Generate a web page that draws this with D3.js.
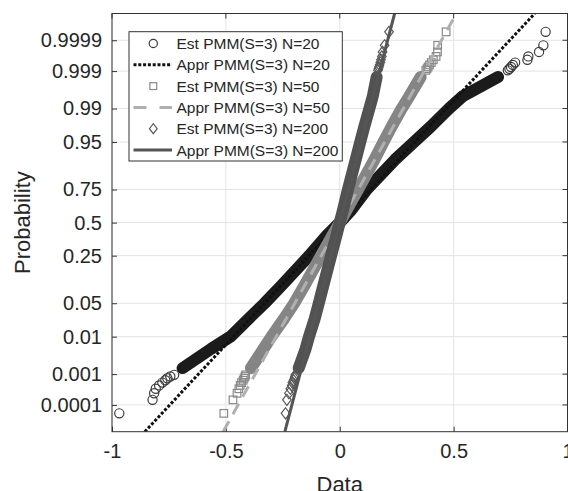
<!DOCTYPE html>
<html><head><meta charset="utf-8">
<script src="https://cdn.jsdelivr.net/npm/d3@7"></script>
<style>
html,body{margin:0;padding:0;background:#fff;}
svg{display:block;font-family:"Liberation Sans",Arial,Helvetica,sans-serif;}
</style></head>
<body><svg id="chart" width="568" height="491"></svg>
<script>
// ---------- data ----------
const xTicks = [-1, -0.5, 0, 0.5, 1];
const xTickLabels = ["-1", "-0.5", "0", "0.5", "1"];
const probTicks = [0.0001, 0.001, 0.01, 0.05, 0.25, 0.5, 0.75, 0.95, 0.99, 0.999, 0.9999];
const probTickLabels = ["0.0001", "0.001", "0.01", "0.05", "0.25", "0.5", "0.75", "0.95", "0.99", "0.999", "0.9999"];
const xDomain = [-1, 1];
const probDomain = [0.00001, 0.99999];

// probabilities of the dense body of each estimated sample (read along the band)
const bodyProb = [0.0015, 0.005, 0.01, 0.025, 0.05, 0.1, 0.25, 0.4, 0.5, 0.6, 0.75, 0.9, 0.95, 0.975, 0.99, 0.995, 0.9985];
// plotting positions of the 10 lowest / highest of 10000 ordered values
const lowTailProb = [0.00005, 0.00015, 0.00025, 0.00035, 0.00045, 0.00055, 0.00065, 0.00075, 0.00085, 0.00095];
const highTailProb = [0.99905, 0.99915, 0.99925, 0.99935, 0.99945, 0.99955, 0.99965, 0.99975, 0.99985, 0.99995];

const est20Body = [-0.69, -0.565, -0.48, -0.40, -0.33, -0.255, -0.134, -0.055, 0, 0.05, 0.118, 0.242, 0.327, 0.40, 0.48, 0.54, 0.695];
const est20Low  = [-0.968, -0.822, -0.815, -0.808, -0.793, -0.779, -0.766, -0.757, -0.744, -0.727];
const est20High = [0.738, 0.745, 0.752, 0.76, 0.77, 0.824, 0.828, 0.875, 0.894, 0.904];

const est50Body = [-0.39, -0.335, -0.30, -0.245, -0.20, -0.155, -0.082, -0.031, 0, 0.03, 0.08, 0.152, 0.192, 0.228, 0.272, 0.305, 0.355];
const est50Low  = [-0.509, -0.469, -0.451, -0.443, -0.437, -0.431, -0.424, -0.420, -0.416, -0.413];
const est50High = [0.378, 0.383, 0.388, 0.394, 0.402, 0.411, 0.423, 0.429, 0.430, 0.467];

const est200Body = [-0.18, -0.15, -0.135, -0.11, -0.092, -0.072, -0.038, -0.014, 0, 0.014, 0.036, 0.07, 0.09, 0.108, 0.13, 0.145, 0.162];
const est200Low  = [-0.238, -0.232, -0.223, -0.217, -0.211, -0.208, -0.203, -0.199, -0.197, -0.195];
const est200High = [0.168, 0.17, 0.172, 0.175, 0.178, 0.181, 0.185, 0.188, 0.197, 0.2165];

// approximating normal lines (end points at the probability limits)
const apprProb = [0.00001, 0.99999];
const appr20X  = [-0.856, 0.856];
const appr50X  = [-0.512, 0.512];
const appr200X = [-0.241, 0.241];

const legendLabels = ["Est PMM(S=3) N=20", "Appr PMM(S=3) N=20", "Est PMM(S=3) N=50",
                      "Appr PMM(S=3) N=50", "Est PMM(S=3) N=200", "Appr PMM(S=3) N=200"];

// ---------- probit transform (Acklam) ----------
function probit(p) {
  const a = [-3.969683028665376e+01, 2.209460984245205e+02, -2.759285104469687e+02, 1.383577518672690e+02, -3.066479806614716e+01, 2.506628277459239e+00];
  const b = [-5.447609879822406e+01, 1.615858368580409e+02, -1.556989798598866e+02, 6.680131188771972e+01, -1.328068155288572e+01];
  const c = [-7.784894002430293e-03, -3.223964580411365e-01, -2.400758277161838e+00, -2.549732539343734e+00, 4.374664141464968e+00, 2.938163982698783e+00];
  const d = [7.784695709041462e-03, 3.224671290700398e-01, 2.445134137142996e+00, 3.754408661907416e+00];
  const pl = 0.02425, ph = 1 - pl;
  let q, r;
  if (p < pl) { q = Math.sqrt(-2 * Math.log(p));
    return (((((c[0]*q+c[1])*q+c[2])*q+c[3])*q+c[4])*q+c[5]) / ((((d[0]*q+d[1])*q+d[2])*q+d[3])*q+1); }
  if (p <= ph) { q = p - 0.5; r = q*q;
    return (((((a[0]*r+a[1])*r+a[2])*r+a[3])*r+a[4])*r+a[5])*q / (((((b[0]*r+b[1])*r+b[2])*r+b[3])*r+b[4])*r+1); }
  q = Math.sqrt(-2 * Math.log(1 - p));
  return -(((((c[0]*q+c[1])*q+c[2])*q+c[3])*q+c[4])*q+c[5]) / ((((d[0]*q+d[1])*q+d[2])*q+d[3])*q+1);
}

// ---------- layout ----------
const svg = d3.select("#chart");
const L = 112, R = 567.5, T = 13.5, B = 431.7;
const x = d3.scaleLinear().domain(xDomain).range([L, R]);
const yz = d3.scaleLinear().domain([probit(probDomain[0]), probit(probDomain[1])]).range([B, T]);
const y = p => yz(probit(p));
const textCol = "#262626";
const font = '"Liberation Sans",Arial,Helvetica,sans-serif';

svg.append("defs").append("clipPath").attr("id", "clip")
  .append("rect").attr("x", L).attr("y", T).attr("width", R - L).attr("height", B - T);

// grid
const grid = svg.append("g");
grid.selectAll("line.gx").data(xTicks).join("line")
  .attr("x1", d => x(d)).attr("x2", d => x(d)).attr("y1", T).attr("y2", B)
  .attr("stroke", "#e3e3e3").attr("stroke-width", 1);
grid.selectAll("line.gy").data(probTicks).join("line")
  .attr("x1", L).attr("x2", R).attr("y1", d => y(d)).attr("y2", d => y(d))
  .attr("stroke", "#e3e3e3").attr("stroke-width", 1);

// axes
const xAxis = d3.axisBottom(x).tickValues(xTicks).tickFormat((d, i) => xTickLabels[i])
  .tickSizeInner(-5).tickSizeOuter(0).tickPadding(12);
const yAxis = d3.axisLeft(yz).tickValues(probTicks.map(probit))
  .tickFormat((d, i) => probTickLabels[i]).tickSizeInner(-5).tickSizeOuter(0).tickPadding(10);
const gx = svg.append("g").attr("transform", `translate(0,${B})`).call(xAxis);
const gy = svg.append("g").attr("transform", `translate(${L},0)`).call(yAxis);
[gx, gy].forEach(g => {
  g.select(".domain").remove();
  g.selectAll(".tick line").attr("stroke", "#333");
  g.selectAll(".tick text").attr("fill", textCol).style("font-size", "20px").style("font-family", font);
});
gx.selectAll(".tick text").attr("dy", "0.74em");
// right & top ticks (box)
svg.append("g").selectAll("line").data(probTicks).join("line")
  .attr("x1", R).attr("x2", R - 5).attr("y1", d => y(d)).attr("y2", d => y(d)).attr("stroke", "#333");
svg.append("g").selectAll("line").data(xTicks).join("line")
  .attr("x1", d => x(d)).attr("x2", d => x(d)).attr("y1", T).attr("y2", T + 5).attr("stroke", "#333");

// axis labels
svg.append("text").attr("x", (L + R) / 2).attr("y", 492).attr("text-anchor", "middle")
  .attr("fill", textCol).style("font-size", "22px").style("font-family", font).text("Data");
svg.append("text").attr("transform", `translate(30,${yz(0)}) rotate(-90)`).attr("text-anchor", "middle")
  .attr("fill", textCol).style("font-size", "22px").style("font-family", font).text("Probability");

// ---------- series ----------
const plot = svg.append("g").attr("clip-path", "url(#clip)");
const zip = (xs, ps) => xs.map((v, i) => [v, ps[i]]);
const lineGen = d3.line().x(d => x(d[0])).y(d => y(d[1]));

const series = [
  { body: est20Body, low: est20Low, high: est20High, band: "#1b1b1b", mark: "#3a3a3a", shape: "circle",
    appr: appr20X, lineCol: "#111", lineW: 3, dash: "3,1.8" },
  { body: est50Body, low: est50Low, high: est50High, band: "#858585", mark: "#8a8a8a", shape: "square",
    appr: appr50X, lineCol: "#b0b0b0", lineW: 3, dash: "12,8" },
  { body: est200Body, low: est200Low, high: est200High, band: "#525252", mark: "#5a5a5a", shape: "diamond",
    appr: appr200X, lineCol: "#555", lineW: 3, dash: null }
];

function drawMarker(g, shape, cx, cy, col, scale) {
  const s = scale || 1;
  if (shape === "circle") {
    g.append("circle").attr("cx", cx).attr("cy", cy).attr("r", 4.6 * s)
      .attr("fill", "none").attr("stroke", col).attr("stroke-width", 1.2);
  } else if (shape === "square") {
    g.append("rect").attr("x", cx - 3.8 * s).attr("y", cy - 3.8 * s).attr("width", 7.6 * s).attr("height", 7.6 * s)
      .attr("fill", "none").attr("stroke", col).attr("stroke-width", 1.2);
  } else {
    g.append("path").attr("d", `M${cx},${cy - 5.6 * s}L${cx + 4.3 * s},${cy}L${cx},${cy + 5.6 * s}L${cx - 4.3 * s},${cy}Z`)
      .attr("fill", "none").attr("stroke", col).attr("stroke-width", 1.2);
  }
}

series.forEach(s => {
  // dense body of overlapping markers
  plot.append("path").datum(zip(s.body, bodyProb)).attr("d", lineGen)
    .attr("fill", "none").attr("stroke", s.band).attr("stroke-width", 12)
    .attr("stroke-linecap", "round").attr("stroke-linejoin", "round");
  // tail markers
  const tails = zip(s.low, lowTailProb).concat(zip(s.high, highTailProb));
  tails.forEach(d => drawMarker(plot, s.shape, x(d[0]), y(d[1]), s.mark));
  // approximating line
  const ln = plot.append("path").datum(zip(s.appr, apprProb)).attr("d", lineGen)
    .attr("fill", "none").attr("stroke", s.lineCol).attr("stroke-width", s.lineW);
  if (s.dash) ln.attr("stroke-dasharray", s.dash);
});

// box
svg.append("rect").attr("x", L).attr("y", T).attr("width", R - L).attr("height", B - T)
  .attr("fill", "none").attr("stroke", "#333").attr("stroke-width", 1);

// ---------- legend ----------
const lg = svg.append("g");
lg.append("rect").attr("x", 129).attr("y", 31.7).attr("width", 213.3).attr("height", 129.3)
  .attr("fill", "#fff").attr("stroke", "#333").attr("stroke-width", 1);
const rowY = i => 43.5 + i * 21.3;
legendLabels.forEach((lab, i) => {
  const s = series[Math.floor(i / 2)];
  const cy = rowY(i);
  if (i % 2 === 0) {
    drawMarker(lg, s.shape, 153.3, cy, s.mark, 0.9);
  } else {
    const l = lg.append("line").attr("x1", 133.5).attr("x2", 172).attr("y1", cy).attr("y2", cy)
      .attr("stroke", s.lineCol).attr("stroke-width", s.lineW);
    if (s.dash) l.attr("stroke-dasharray", s.shape === "square" ? "13,13" : s.dash);
  }
  lg.append("text").attr("x", 176.5).attr("y", cy).attr("dy", "0.36em")
    .attr("fill", textCol).style("font-size", "15.5px").style("font-family", font).text(lab);
});
</script></body></html>
